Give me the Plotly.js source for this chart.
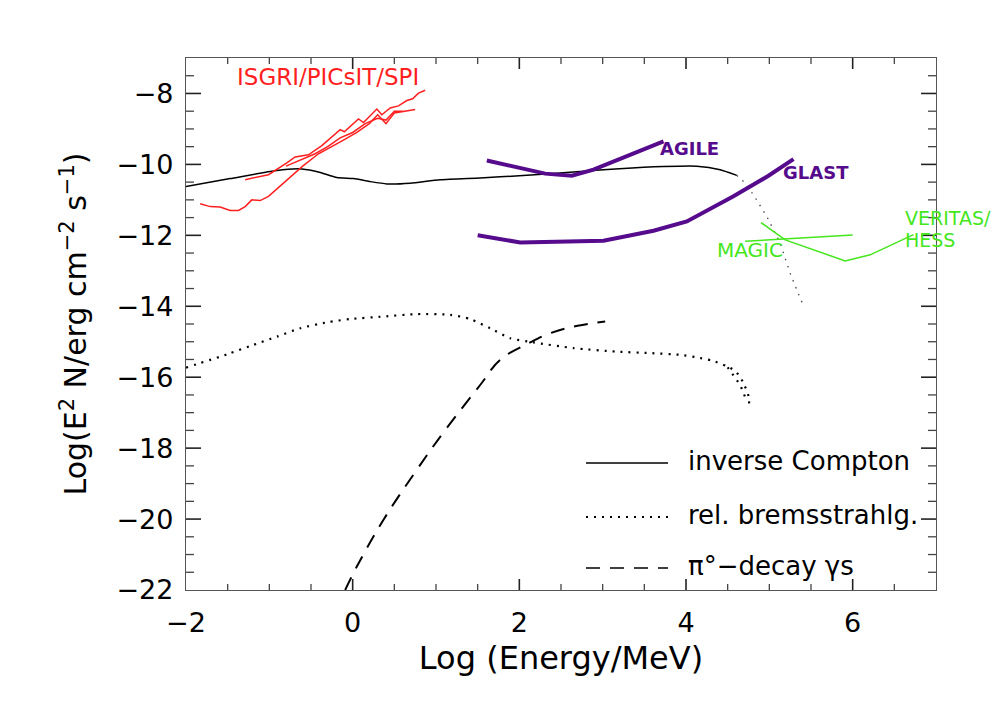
<!DOCTYPE html>
<html><head><meta charset="utf-8">
<script src="https://cdn.plot.ly/plotly-3.0.1.min.js"></script>
<style>html,body{margin:0;padding:0;background:#fff}#c{width:992px;height:708px}</style>
</head><body><div id="c"></div>
<script>
// inverse Compton (solid) and its high-energy tail (dotted)
const icX = [-2,-1.47,-0.99,-0.72,-0.61,-0.4,-0.19,0.01,0.2,0.41,0.69,1.05,1.53,2.0,2.73,3.2,3.73,4.13,4.41,4.61];
const icY = [-10.62,-10.4,-10.2,-10.13,-10.13,-10.22,-10.37,-10.4,-10.48,-10.55,-10.53,-10.43,-10.38,-10.32,-10.2,-10.12,-10.06,-10.05,-10.15,-10.31];
const icTailX = [4.61,4.69,4.81,4.97,5.13,5.25,5.37,5.41];
const icTailY = [-10.31,-10.48,-10.86,-11.47,-12.22,-13.07,-13.77,-13.98];
// relativistic bremsstrahlung
const brX = [-2,-1.5,-1.23,-0.9,-0.63,-0.3,-0.03,0.37,0.77,1.17,1.41,1.65,1.89,2.17,2.65,3.17,3.57,3.93,4.13,4.31,4.48,4.57,4.63,4.68,4.72,4.75,4.76];
const brY = [-15.73,-15.35,-15.12,-14.85,-14.62,-14.45,-14.36,-14.29,-14.22,-14.24,-14.36,-14.62,-14.9,-15.02,-15.18,-15.28,-15.32,-15.37,-15.44,-15.53,-15.68,-15.79,-15.93,-16.12,-16.33,-16.53,-16.83];
const br2X = [4.5,4.55,4.6,4.65,4.69,4.72];
const br2Y = [-15.72,-15.87,-16.05,-16.22,-16.43,-16.64];
// pi0-decay gamma rays
const piX = [-0.09,0.05,0.37,0.77,1.11,1.53,1.77,2.13,2.37,2.7,3.03];
const piY = [-22,-21.34,-20.02,-18.61,-17.49,-16.22,-15.51,-15.02,-14.76,-14.55,-14.43];
// instrument sensitivities
const glastX = [1.5,2.01,3.01,3.61,4.01,4.57,4.99,5.29];
const glastY = [-12.0,-12.2,-12.15,-11.87,-11.61,-10.9,-10.32,-9.85];
const agileX = [1.61,2.31,2.63,2.89,3.73];
const agileY = [-9.89,-10.26,-10.32,-10.15,-9.35];
const magicX = [4.9,5.19,5.91,6.21,6.73];
const magicY = [-11.64,-12.13,-12.72,-12.55,-11.98];
const hessX = [4.71,6.0];
const hessY = [-12.17,-11.99];
const isgriAX = [-1.83,-1.71,-1.59,-1.47,-1.37,-1.29,-1.21,-1.11,-1.01,-0.6,-0.41,-0.25,-0.1,0.05,0.2,0.3,0.4,0.5,0.75];
const isgriAY = [-11.11,-11.19,-11.2,-11.3,-11.3,-11.19,-11.0,-11.02,-10.9,-10.05,-9.7,-9.5,-9.3,-9.1,-8.85,-8.6,-8.85,-8.55,-8.45];
const isgriBX = [-1.29,-1.01,-0.79,-0.69,-0.53,-0.37,-0.15,-0.1,0.07,0.13,0.29,0.35,0.45,0.55,0.65,0.72,0.79,0.87];
const isgriBY = [-10.43,-10.29,-9.96,-9.79,-9.73,-9.47,-9.02,-9.08,-8.72,-8.82,-8.44,-8.6,-8.41,-8.35,-8.2,-8.15,-7.99,-7.91];
const isgriCX = [-0.8,-0.6,-0.45,-0.3,-0.15,0.0,0.15,0.3,0.4,0.5,0.6];
const isgriCY = [-10.05,-9.85,-9.7,-9.5,-9.25,-9.1,-8.85,-8.7,-8.75,-8.5,-8.5];

const xRange = [-2,7], yRange = [-22,-7];
const xTickVals = [-2,0,2,4,6];
const yTickVals = [-22,-20,-18,-16,-14,-12,-10,-8];
const legendLabels = ["inverse Compton","rel. bremsstrahlg.","π°−decay γs"];

const RED = "#ff1f1f", PURPLE = "#560a8c", GREEN = "#44e61c";
const FONT = "DejaVu Sans";

function tr(x,y,color,width,dash,shape,sm){return {x:x,y:y,type:"scatter",mode:"lines",line:{color:color,width:width,dash:dash||"solid",shape:shape||"linear",smoothing:sm||0.6},hoverinfo:"skip",showlegend:false};}

// plot frame size in px, and px per data unit (for tick lengths)
const PW = 750, PH = 532;
const kx = PW/(xRange[1]-xRange[0]), ky = PH/(yRange[1]-yRange[0]);
// tick marks on all four sides, as line segments through the axis scales
const tkMajX=[],tkMajY=[],tkMinX=[],tkMinY=[];
function seg(ax,ay,a,b,c,d){ax.push(a,b,null); ay.push(c,d,null);}
for(let v=xRange[0]+0.5; v<xRange[1]; v+=0.5){
  const maj = xTickVals.includes(v), L = (maj?11:6)/ky;
  const X = maj?tkMajX:tkMinX, Y = maj?tkMajY:tkMinY;
  seg(X,Y,v,v,yRange[0],yRange[0]+L); seg(X,Y,v,v,yRange[1],yRange[1]-L);
}
for(let v=yRange[0]+0.5; v<yRange[1]; v+=0.5){
  const maj = yTickVals.includes(v), L = (maj?15:8)/kx;
  const X = maj?tkMajX:tkMinX, Y = maj?tkMajY:tkMinY;
  seg(X,Y,xRange[0],xRange[0]+L,v,v); seg(X,Y,xRange[1],xRange[1]-L,v,v);
}

const data = [
  Object.assign(tr(tkMajX,tkMajY,"#222",1.6),{connectgaps:false,cliponaxis:false}),
  Object.assign(tr(tkMinX,tkMinY,"#444",1.3),{connectgaps:false,cliponaxis:false}),
  tr(icX,icY,"#000",1.5,"solid","spline"),
  tr(icTailX,icTailY,"#444",1.3,"1.5px,6px"),
  tr(brX,brY,"#000",2.2,"2px,6px","spline"),
  tr(br2X,br2Y,"#000",2.2,"2px,6px"),
  tr(piX,piY,"#000",2,"14px,10px","spline",1.1),
  tr(glastX,glastY,PURPLE,4),
  tr(agileX,agileY,PURPLE,4),
  tr(magicX,magicY,GREEN,1.5),
  tr(hessX,hessY,GREEN,1.5),
  tr(isgriAX,isgriAY,RED,1.5),
  tr(isgriBX,isgriBY,RED,1.5),
  tr(isgriCX,isgriCY,RED,1.5)
];

const shapes = [];
// legend (drawn inside the frame, as in the original)
const legYs = [463,517,568];
const legDash = ["solid","2px,6px","14px,10px"];
legYs.forEach((py,i)=>shapes.push({type:"line",xref:"paper",yref:"paper",
  x0:(586-186)/PW, x1:(668-186)/PW, y0:(590-py)/PH, y1:(590-py)/PH,
  line:{color:"#000",width:i===1?2:1.5,dash:legDash[i]}}));

const ann = [];
legendLabels.forEach((t,i)=>ann.push({xref:"paper",yref:"paper",x:(686-186)/PW,y:(590-legYs[i]+2)/PH,
  text:t,showarrow:false,xanchor:"left",yanchor:"middle",font:{family:FONT,size:26,color:"#000"}}));
function lab(t,px,py,color,size,anchor,bold){ann.push({xref:"paper",yref:"paper",x:(px-186)/PW,y:(590-py)/PH,
  text:bold?"<b>"+t+"</b>":t,showarrow:false,xanchor:anchor||"center",yanchor:"middle",align:"left",
  font:{family:FONT,size:size,color:color}});}
lab("ISGRI/PICsIT/SPI",328,77,RED,23);
lab("AGILE",689,148,PURPLE,18,"center",true);
lab("GLAST",816,172,PURPLE,18,"center",true);
lab("MAGIC",750,250,GREEN,20);
lab("VERITAS/",903,218,GREEN,19,"left");
lab("HESS",903,240,GREEN,19,"left");

const layout = {
  width:992, height:708,
  margin:{l:186,r:56,t:58,b:118},
  paper_bgcolor:"#fff", plot_bgcolor:"#fff",
  showlegend:false,
  xaxis:{range:xRange, showgrid:false, zeroline:false, showline:true, linecolor:"#555", linewidth:1.3,
    mirror:true, ticks:"", tickmode:"array", tickvals:xTickVals, ticklabelstandoff:8,
    tickfont:{family:FONT,size:27,color:"#000"},
    title:{text:"Log (Energy/MeV)",font:{family:FONT,size:32,color:"#000"},standoff:10}},
  yaxis:{range:yRange, showgrid:false, zeroline:false, showline:true, linecolor:"#555", linewidth:1.3,
    mirror:true, ticks:"", tickmode:"array", tickvals:yTickVals, ticklabelstandoff:6,
    tickfont:{family:FONT,size:27,color:"#000"},
    title:{text:"Log(E<sup>2</sup> N/erg cm<sup>−2</sup> s<sup>−1</sup>)",font:{family:FONT,size:30,color:"#000"},standoff:20}},
  shapes:shapes, annotations:ann
};
Plotly.newPlot("c",data,layout,{displayModeBar:false});
</script></body></html>
